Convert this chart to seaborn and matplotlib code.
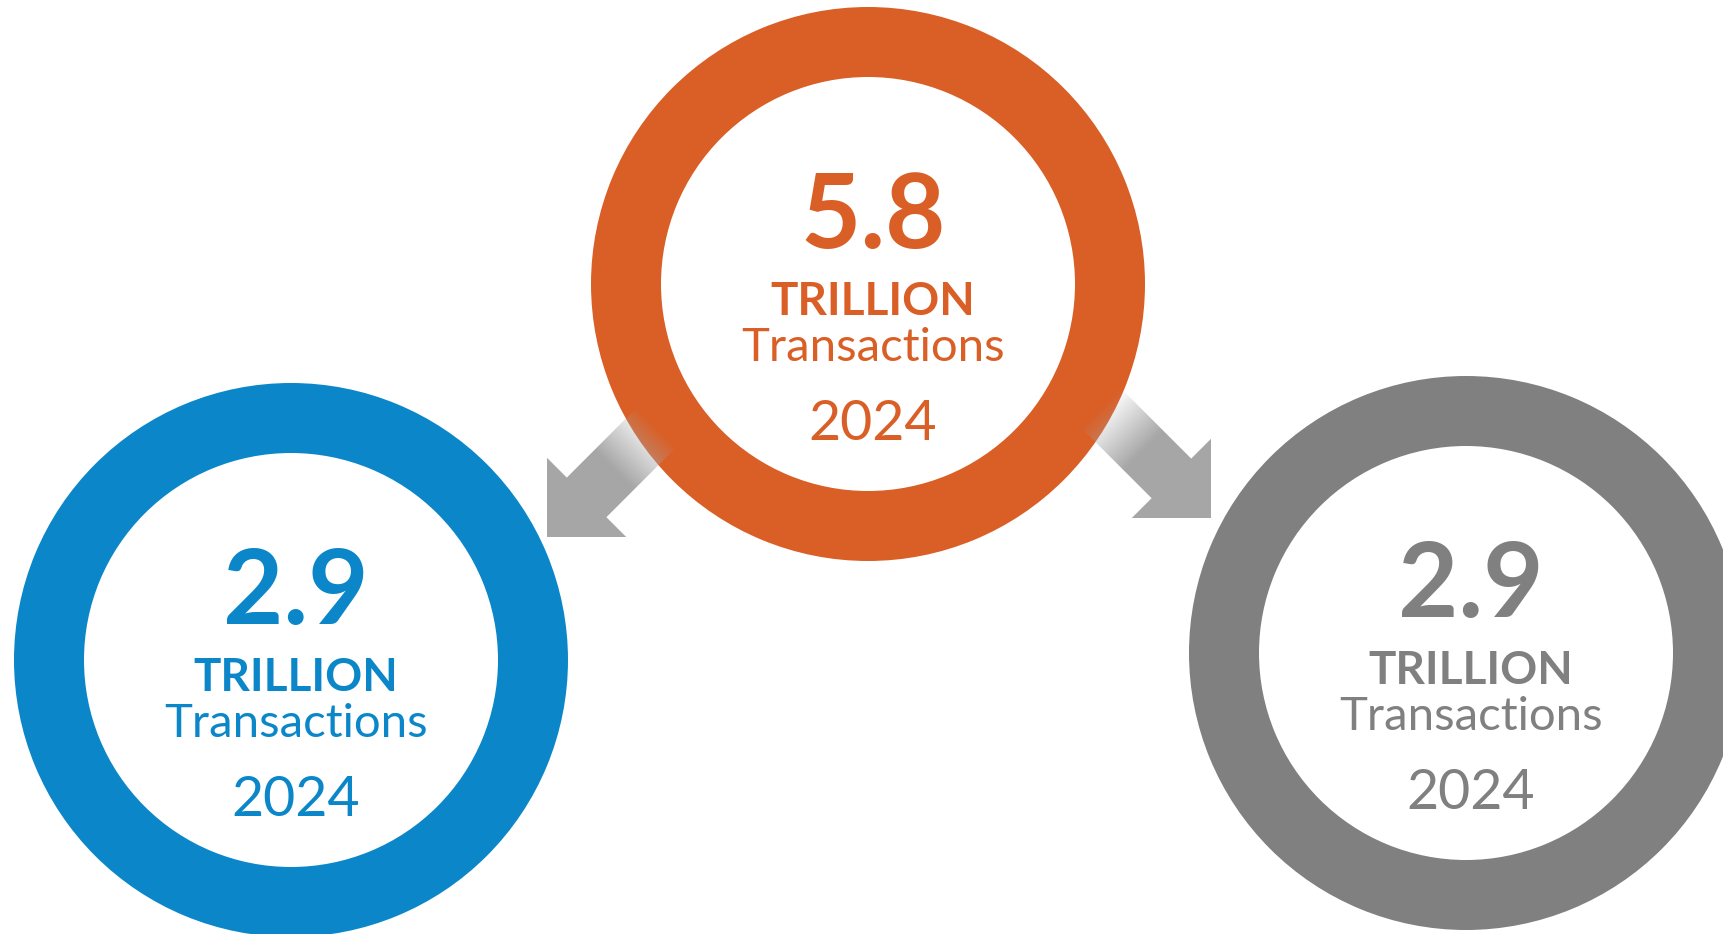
import numpy as np
import seaborn as sns
import matplotlib.pyplot as plt
from matplotlib.patches import Wedge, Polygon

# data
values = ["5.8", "2.9", "2.9"]
units = ["TRILLION", "TRILLION", "TRILLION"]
captions = ["Transactions", "Transactions", "Transactions"]
years = ["2024", "2024", "2024"]
colors = ["#DA5F27", "#0B87C9", "#808080"]

# layout (pixels)
centers = [(868, 284), (291, 660), (1466, 653)]
r_out, ring = 277, 70

sns.set_theme(style="white")
plt.rcParams['font.family'] = ['Lato', 'DejaVu Sans']

fig = plt.figure(figsize=(17.24, 9.34), dpi=100)
ax = fig.add_axes([0, 0, 1, 1])
ax.set_xlim(0, 1724)
ax.set_ylim(934, 0)
ax.axis('off')

for (cx, cy), col in zip(centers, colors):
    ax.add_patch(Wedge((cx, cy), r_out, 0, 360, width=ring, color=col, lw=0, zorder=2))


def arrow(tip, d):
    # arrow pointing along d, tip at 'tip', fading out toward the tail
    d = np.array(d) / np.linalg.norm(d)
    n = np.array([-d[1], d[0]])
    tip = np.array(tip)
    head, hw, sw, tail = 56, 56, 28, 175
    base = tip - d * head
    end = tip - d * tail
    pts = [tip, base + n * hw, base + n * sw, end + n * sw,
           end - n * sw, base - n * sw, base - n * hw]
    poly = Polygon(pts, closed=True, fc='none', ec='none')
    ax.add_patch(poly)
    xs = np.linspace(0, 1724, 600)
    ys = np.linspace(0, 934, 330)
    X, Y = np.meshgrid(xs, ys)
    t = (tip[0] - X) * d[0] + (tip[1] - Y) * d[1]
    a = np.clip((155 - t) / 60, 0, 1)
    img = np.zeros(X.shape + (4,))
    img[..., :3] = 166 / 255
    img[..., 3] = a
    im = ax.imshow(img, extent=(0, 1724, 934, 0), origin='upper', zorder=3,
                   interpolation='bilinear')
    im.set_clip_path(poly)


arrow((547, 537), (-1, 1))
arrow((1211, 518), (1, 1))

for (cx, cy), v, u, c, y, col in zip(centers, values, units, captions, years, colors):
    x = cx + 5
    ax.text(x, cy - 36, v, color=col, fontsize=75, fontweight='bold',
            ha='center', va='baseline', zorder=5)
    ax.text(x, cy + 31, u, color=col, fontsize=33, fontweight='bold',
            ha='center', va='baseline', zorder=5)
    ax.text(x, cy + 77, c, color=col, fontsize=34, fontweight='normal',
            ha='center', va='baseline', zorder=5)
    ax.text(x, cy + 156, y, color=col, fontsize=40, fontweight='normal',
            ha='center', va='baseline', zorder=5)

fig.savefig("out.png", dpi=100, facecolor='white')
